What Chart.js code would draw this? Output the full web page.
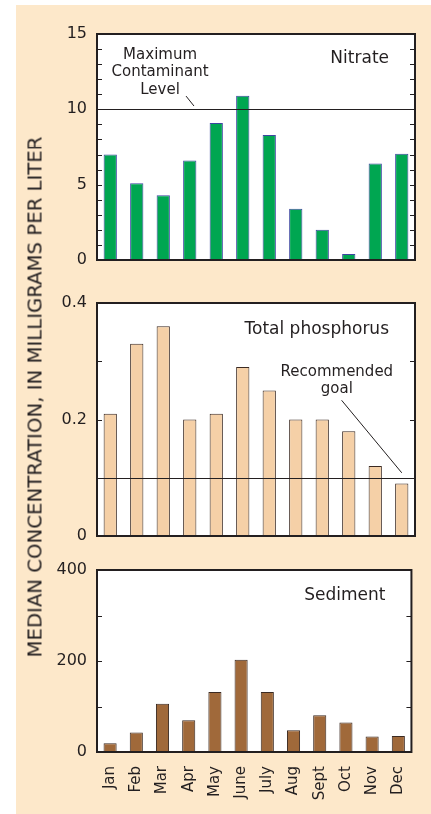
<!DOCTYPE html>
<html>
<head>
<meta charset="utf-8">
<script src="https://cdn.jsdelivr.net/npm/chart.js@4"></script>
<style>
  html, body { margin: 0; padding: 0; background: #ffffff; width: 431px; height: 814px; overflow: hidden; }
  #bg { position: absolute; left: 16px; top: 5px; width: 415px; height: 809px; background: #fde8ca; }
  canvas { position: absolute; left: 0; }
  #ytitle { position: absolute; left: 35px; top: 397px; transform: translate(-50%, -50%) rotate(-90deg);
    white-space: nowrap; font-family: "DejaVu Sans", sans-serif; font-size: 19.7px; color: #231f20; }
</style>
</head>
<body>
<div id="bg"></div>
<canvas id="c1" width="431" height="280" style="top:0px"></canvas>
<canvas id="c2" width="431" height="276" style="top:280px"></canvas>
<canvas id="c3" width="431" height="264" style="top:550px"></canvas>
<div id="ytitle">MEDIAN CONCENTRATION, IN MILLIGRAMS PER LITER</div>
<script>
// ---- data ----
const months = ['Jan','Feb','Mar','Apr','May','June','July','Aug','Sept','Oct','Nov','Dec'];
const nitrate = [7.0, 5.1, 4.3, 6.6, 9.1, 10.9, 8.3, 3.4, 2.0, 0.4, 6.4, 7.05];
const phosphorus = [0.21, 0.33, 0.36, 0.20, 0.21, 0.29, 0.25, 0.20, 0.20, 0.18, 0.12, 0.09];
const sediment = [19, 43, 106, 70, 132, 203, 132, 48, 81, 65, 34, 35];
const nitrateTickLabels = [0, 5, 10, 15];
const phosphorusTickLabels = [0, 0.2, 0.4];
const sedimentTickLabels = [0, 200, 400];
const nitrateLimit = 10;        // Maximum Contaminant Level
const phosphorusGoal = 0.1;     // Recommended goal
const mclLabel = ['Maximum', 'Contaminant', 'Level'];
const goalLabel = ['Recommended', 'goal'];

const INK = '#231f20';
const FONT = '"DejaVu Sans", sans-serif';

function panelPlugin(cfg) {
  return {
    id: 'panel_' + cfg.title.replace(/\s/g, ''),
    beforeDatasetsDraw(chart) {
      const a = chart.chartArea, ctx = chart.ctx;
      ctx.save();
      ctx.fillStyle = '#ffffff';
      ctx.fillRect(a.left, a.top, a.right - a.left, a.bottom - a.top);
      ctx.restore();
    },
    afterDatasetsDraw(chart) {
      const a = chart.chartArea, ctx = chart.ctx;
      const ys = chart.scales.y, xs = chart.scales.x;
      ctx.save();
      // inner tick marks
      ctx.strokeStyle = INK; ctx.lineWidth = 1;
      ys.ticks.forEach(t => {
        const py = Math.round(ys.getPixelForValue(t.value)) + 0.5;
        if (py <= a.top + 2 || py >= a.bottom - 2) return;
        ctx.beginPath();
        ctx.moveTo(a.left, py); ctx.lineTo(a.left + 5, py);
        ctx.moveTo(a.right, py); ctx.lineTo(a.right - 5, py);
        ctx.stroke();
      });
      // reference line
      if (cfg.refValue !== undefined) {
        const py = Math.round(ys.getPixelForValue(cfg.refValue)) + 0.5;
        ctx.beginPath(); ctx.moveTo(a.left, py); ctx.lineTo(a.right, py); ctx.stroke();
      }
      // annotation text and leader
      if (cfg.note) {
        const n = cfg.note;
        ctx.fillStyle = INK;
        ctx.font = '15px ' + FONT;
        ctx.textAlign = 'center'; ctx.textBaseline = 'middle';
        const cx = xs.getPixelForValue(n.x);
        const y0 = ys.getPixelForValue(n.y);
        n.lines.forEach((s, i) => ctx.fillText(s, cx, y0 + i * n.lh));
        ctx.beginPath();
        ctx.moveTo(xs.getPixelForValue(n.lead[0]), ys.getPixelForValue(n.lead[1]));
        ctx.lineTo(xs.getPixelForValue(n.lead[2]), ys.getPixelForValue(n.lead[3]));
        ctx.stroke();
      }
      // panel title
      ctx.fillStyle = INK;
      ctx.font = '17px ' + FONT;
      ctx.textAlign = 'right'; ctx.textBaseline = 'middle';
      ctx.fillText(cfg.title, a.right - 26, a.top + cfg.titleDy);
      // frame
      ctx.lineWidth = 2;
      ctx.strokeRect(a.left, a.top, a.right - a.left, a.bottom - a.top);
      ctx.restore();
    }
  };
}

function makeChart(id, data, color, border, yCfg, pad, showX, cfg) {
  return new Chart(document.getElementById(id), {
    type: 'bar',
    data: {
      labels: months,
      datasets: [{
        data: data,
        backgroundColor: color,
        borderColor: border,
        borderWidth: 1,
        borderSkipped: 'start',
        categoryPercentage: 1.0,
        barPercentage: 0.5
      }]
    },
    options: {
      responsive: false,
      animation: false,
      devicePixelRatio: 1,
      layout: { padding: pad },
      plugins: { legend: { display: false }, tooltip: { enabled: false } },
      scales: {
        x: {
          display: showX,
          grid: { display: false, drawTicks: false },
          border: { display: false },
          ticks: {
            display: showX,
            minRotation: 90, maxRotation: 90,
            padding: 14,
            color: INK,
            font: { family: FONT, size: 15 }
          },
          afterFit(s) { s.height = showX ? 62 : 0; }
        },
        y: {
          min: yCfg.min, max: yCfg.max,
          grid: { display: false, drawTicks: false },
          border: { display: false },
          ticks: {
            stepSize: yCfg.step,
            padding: 10,
            color: INK,
            font: { family: FONT, size: 16 },
            autoSkip: false,
            callback(v) {
              const hit = yCfg.labels.find(l => Math.abs(l - v) < yCfg.step / 100);
              return hit === undefined ? '' : String(hit);
            }
          },
          afterFit(s) { s.width = 97; }
        }
      }
    },
    plugins: [panelPlugin(cfg)]
  });
}

makeChart('c1', nitrate, '#00a651', '#3d46a0',
  { min: 0, max: 15, step: 1, labels: nitrateTickLabels },
  { top: 34, right: 16, bottom: 20, left: 0 }, false,
  { title: 'Nitrate', titleDy: 25, refValue: nitrateLimit,
    note: { lines: mclLabel, x: 1.88, y: 13.6, lh: 17.5, lead: [2.86, 10.88, 3.16, 10.22] } });

makeChart('c2', phosphorus, '#f5d0a7', '#3b2a22',
  { min: 0, max: 0.4, step: 0.1, labels: phosphorusTickLabels },
  { top: 23, right: 16, bottom: 20, left: 0 }, false,
  { title: 'Total phosphorus', titleDy: 27, refValue: phosphorusGoal,
    note: { lines: goalLabel, x: 8.55, y: 0.2817, lh: 16.7, lead: [8.73, 0.233, 11.0, 0.1085] } });

makeChart('c3', sediment, '#a0693a', '#3b2a22',
  { min: 0, max: 400, step: 100, labels: sedimentTickLabels },
  { top: 20, right: 16, bottom: 0, left: 0 }, true,
  { title: 'Sediment', titleDy: 26 });
</script>
</body>
</html>
